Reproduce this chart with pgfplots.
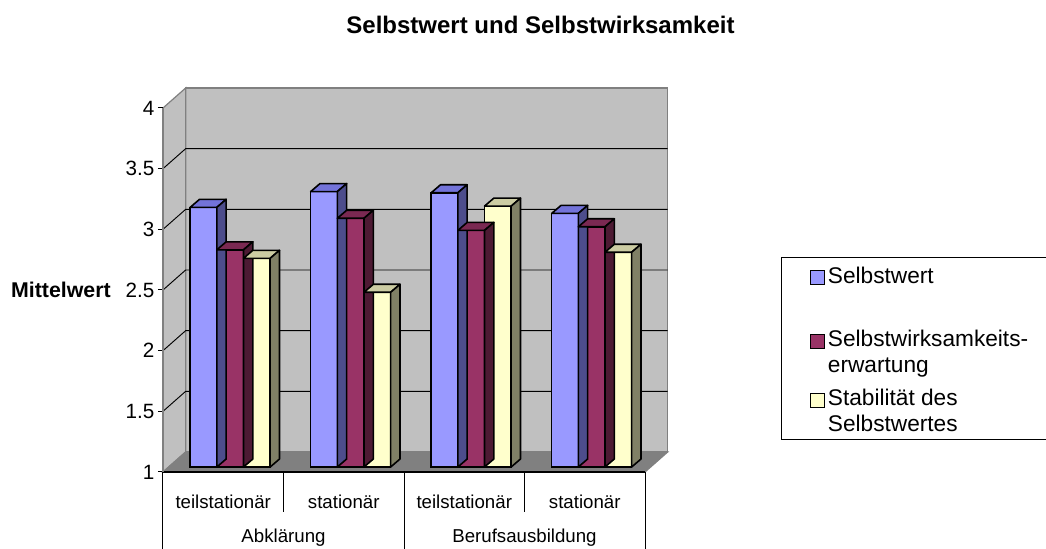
\documentclass[border=0pt]{standalone}
\usepackage{pgfplots}
\pgfplotsset{compat=1.18}
\usepackage{pgfplotstable}
\usepackage{fontspec}
\setmainfont{Liberation Sans}

\definecolor{frontA}{HTML}{9999FF}
\definecolor{topA}{HTML}{7373D9}
\definecolor{sideA}{HTML}{4D4D8C}
\definecolor{frontB}{HTML}{993366}
\definecolor{topB}{HTML}{7A2952}
\definecolor{sideB}{HTML}{4D1A33}
\definecolor{frontC}{HTML}{FFFFCC}
\definecolor{topC}{HTML}{CCCCA3}
\definecolor{sideC}{HTML}{808066}
\definecolor{wall}{HTML}{C0C0C0}
\definecolor{floorc}{HTML}{808080}

% Selbstwert
\pgfplotstableread{
x v
0 3.14
1 3.27
2 3.26
3 3.09
}\tA
% Selbstwirksamkeitserwartung
\pgfplotstableread{
x v
0 2.79
1 3.05
2 2.95
3 2.98
}\tB
% Stabilitaet des Selbstwertes
\pgfplotstableread{
x v
0 2.72
1 2.44
2 3.15
3 2.77
}\tC

% top and side faces of a 3D bar, drawn at the data point
\newcommand\cubemark[3]{%
  \pgfmathsetlengthmacro\cubeh{(\val-1)*91pt}%
  \pgfsetlinewidth{1.2pt}%
  \pgfsetstrokecolor{black}%
  \pgfsetroundjoin
  \pgfsetfillcolor{#2}%
  \pgfpathmoveto{\pgfpoint{#1pt}{3.75pt}}%
  \pgfpathlineto{\pgfpoint{#1pt+20pt}{3.75pt}}%
  \pgfpathlineto{\pgfpoint{#1pt+27pt}{9.75pt}}%
  \pgfpathlineto{\pgfpoint{#1pt+7pt}{9.75pt}}%
  \pgfpathclose
  \pgfusepath{fill,stroke}%
  \pgfsetfillcolor{#3}%
  \pgfpathmoveto{\pgfpoint{#1pt+20pt}{3.75pt}}%
  \pgfpathlineto{\pgfpoint{#1pt+27pt}{9.75pt}}%
  \pgfpathlineto{\pgfpoint{#1pt+27pt}{9.75pt-\cubeh}}%
  \pgfpathlineto{\pgfpoint{#1pt+20pt}{3.75pt-\cubeh}}%
  \pgfpathclose
  \pgfusepath{fill,stroke}%
}
\pgfdeclareplotmark{cubeA}{\cubemark{-24.8}{topA}{sideA}}
\pgfdeclareplotmark{cubeB}{\cubemark{-4.8}{topB}{sideB}}
\pgfdeclareplotmark{cubeC}{\cubemark{15.2}{topC}{sideC}}

\pgfplotsset{
  faces/.style={scatter, only marks, mark=#1,
    scatter/use mapped color={draw=black, fill=black},
    visualization depends on={\thisrow{v} \as \val}},
  front/.style={ybar, bar width=20pt, yshift=3.75pt, draw=black, line width=1.2pt, fill=#1},
}

\begin{document}
\begin{tikzpicture}
\begin{axis}[
  set layers,
  at={(0pt,0pt)}, anchor=south west,
  scale only axis, width=361.5pt, height=273pt,
  xmin=-0.5, xmax=3.5, ymin=0, ymax=3,
  clip=false,
  axis lines*=left,
  x axis line style={black, line width=0.9pt},
  y axis line style={floorc, line width=0.9pt},
  tick align=outside,
  major tick length=3.75pt,
  xtick={0,1,2,3},
  xticklabels={teilstationär,stationär,teilstationär,stationär},
  xtick style={draw=none},
  xticklabel style={font=\fontsize{14}{16}\selectfont, anchor=base, inner sep=0pt, yshift=-24pt},
  ytick={0,0.5,1,1.5,2,2.5,3},
  yticklabels={1,1.5,2,2.5,3,3.5,4},
  ytick style={black, line width=0.75pt},
  yticklabel style={font=\fontsize{15.5}{17}\selectfont, anchor=east, inner sep=0pt, xshift=-2.5pt},
]
\begin{pgfonlayer}{axis background}
  \filldraw[fill=wall, draw=floorc, line width=0.9pt]
    ([shift={(17pt,15pt)}]axis cs:-0.5,0) rectangle ([shift={(17pt,15pt)}]axis cs:3.5,3);
  \filldraw[fill=wall, draw=floorc, line width=0.9pt]
    (axis cs:-0.5,0) -- ([shift={(17pt,15pt)}]axis cs:-0.5,0)
    -- ([shift={(17pt,15pt)}]axis cs:-0.5,3) -- (axis cs:-0.5,3) -- cycle;
  \filldraw[fill=floorc, draw=floorc, line width=0.9pt]
    (axis cs:-0.5,0) -- (axis cs:3.5,0)
    -- ([shift={(17pt,15pt)}]axis cs:3.5,0) -- ([shift={(17pt,15pt)}]axis cs:-0.5,0) -- cycle;
  \pgfplotsinvokeforeach{0.5,1,1.5,2,2.5}{
    \draw[black, line width=0.7pt] (axis cs:-0.5,#1)
      -- ([shift={(17pt,15pt)}]axis cs:-0.5,#1)
      -- ([shift={(17pt,15pt)}]axis cs:3.5,#1);
  }
\end{pgfonlayer}

\addplot[faces=cubeA] table[x=x, y expr=\thisrow{v}-1] {\tA};
\addplot[front=frontA, bar shift=-14.8pt] table[x=x, y expr=\thisrow{v}-1] {\tA};
\addplot[faces=cubeB] table[x=x, y expr=\thisrow{v}-1] {\tB};
\addplot[front=frontB, bar shift=5.2pt] table[x=x, y expr=\thisrow{v}-1] {\tB};
\addplot[faces=cubeC] table[x=x, y expr=\thisrow{v}-1] {\tC};
\addplot[front=frontC, bar shift=25.2pt] table[x=x, y expr=\thisrow{v}-1] {\tC};

\coordinate (O) at (rel axis cs:0,0);
\end{axis}

\begin{scope}[shift={(O)}]
  % category table lines
  \draw[black, line width=0.75pt] (0pt,0pt) -- (0pt,-70pt);
  \draw[black, line width=0.75pt] (90.375pt,0pt) -- (90.375pt,-30pt);
  \draw[black, line width=0.75pt] (180.75pt,0pt) -- (180.75pt,-70pt);
  \draw[black, line width=0.75pt] (271.125pt,0pt) -- (271.125pt,-30pt);
  \draw[black, line width=0.75pt] (361.5pt,0pt) -- (361.5pt,-70pt);
  \node[anchor=base, inner sep=0pt, font=\fontsize{14}{16}\selectfont] at (90.375pt,-53pt) {Abklärung};
  \node[anchor=base, inner sep=0pt, font=\fontsize{14}{16}\selectfont] at (271.125pt,-53pt) {Berufsausbildung};
  % title
  \node[anchor=base, inner sep=0pt, font=\fontsize{18}{21}\selectfont\bfseries] at (283.1pt,329pt) {Selbstwert und Selbstwirksamkeit};
  % y label
  \node[anchor=east, inner sep=0pt, font=\fontsize{16}{18}\selectfont\bfseries] at (-39pt,136.5pt) {Mittelwert};
  % legend
  \draw[black, line width=0.75pt] (464pt,24.4pt) rectangle (700pt,161pt);
  \filldraw[fill=frontA, draw=black, line width=1.1pt] (485.5pt,140.5pt) rectangle ++(10.5pt,10.5pt);
  \filldraw[fill=frontB, draw=black, line width=1.1pt] (485.5pt,92.75pt) rectangle ++(10.5pt,10.5pt);
  \filldraw[fill=frontC, draw=black, line width=1.1pt] (485.5pt,48.5pt) rectangle ++(10.5pt,10.5pt);
  \begin{scope}[every node/.style={anchor=base west, inner sep=0pt, font=\fontsize{17}{20}\selectfont}]
    \node at (498.5pt,141.5pt) {Selbstwert};
    \node at (498.5pt,93.75pt) {Selbstwirksamkeits-};
    \node at (498.5pt,74.5pt) {erwartung};
    \node at (498.5pt,49.5pt) {Stabilität des};
    \node at (498.5pt,30.2pt) {Selbstwertes};
  \end{scope}
  \pgfresetboundingbox
  \path[use as bounding box] (-122.25pt,-57.75pt) rectangle (662.25pt,354pt);
\end{scope}
\end{tikzpicture}
\end{document}
